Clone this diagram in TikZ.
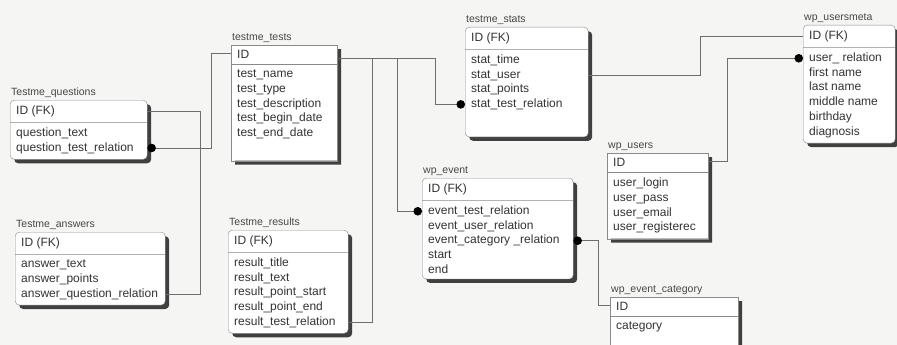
\documentclass[tikz,border=0pt]{standalone}
\usepackage{fontspec}
\setmainfont{Liberation Sans}
\usetikzlibrary{positioning,shapes.multipart,shadows,arrows.meta}
\definecolor{boxline}{HTML}{8A8A8A}
\definecolor{textgray}{HTML}{333333}
\definecolor{linkgray}{HTML}{6E6E6E}
\definecolor{paper}{HTML}{F5F5F3}

\begin{document}
\begin{tikzpicture}[x=1pt,y=-1pt,
    tablebox/.style={rectangle split,rectangle split parts=2,rectangle split part align={left},
        draw=boxline,fill=white,anchor=north west,align=left,inner xsep=6pt,inner ysep=5.3pt,
        text=textgray,font=\fontsize{12}{14.7}\selectfont,
        drop shadow={opacity=1,fill=black!75,shadow xshift=4pt,shadow yshift=-4pt}},
    roundbox/.style={rounded corners=4pt},
    tabtitle/.style={inner sep=1pt,text=textgray!90,font=\fontsize{10.5}{13}\selectfont},
    link/.style={draw=linkgray,line width=.7pt},
    fkdot/.style={arrows={Circle[length=8.5pt,width=8.5pt,color=black]-}}]
\useasboundingbox (0,0) rectangle (897,345);
\fill[paper] (0,0) rectangle (897,345);

\begin{scope}
    \node[tablebox,roundbox,minimum width=137pt] (q) at (10,100)
        {ID (FK) \nodepart{two} question\_text\\question\_test\_relation};
    \node[tablebox,minimum width=106pt] (tt) at (231,45)
        {ID \nodepart{two} test\_name\\test\_type\\test\_description\\test\_begin\_date\\test\_end\_date\\[4pt]~};
    \node[tablebox,roundbox,minimum width=123pt] (st) at (465,27)
        {ID (FK) \nodepart{two} stat\_time\\stat\_user\\stat\_points\\stat\_test\_relation\\[9pt]~};
    \node[tablebox,roundbox,minimum width=92pt] (um) at (803,25)
        {ID (FK) \nodepart{two} user\_ relation\\first name\\last name\\middle name\\birthday\\diagnosis};
    \node[tablebox,minimum width=101pt] (us) at (607,153)
        {ID \nodepart{two} user\_login\\user\_pass\\user\_email\\user\_registerec};
    \node[tablebox,roundbox,minimum width=151pt] (ev) at (422,178)
        {ID (FK) \nodepart{two} event\_test\_relation\\event\_user\_relation\\event\_category \_relation\\start\\end};
    \node[tablebox,roundbox,minimum width=120pt] (r) at (228,230)
        {ID (FK) \nodepart{two} result\_title\\result\_text\\result\_point\_start\\result\_point\_end\\result\_test\_relation};
    \node[tablebox,roundbox,minimum width=150pt] (a) at (15,232)
        {ID (FK) \nodepart{two} answer\_text\\answer\_points\\answer\_question\_relation};
    \node[tablebox,minimum width=128pt] (ec) at (610,297)
        {ID \nodepart{two} category\\~};
\end{scope}

\begin{scope}[every node/.style={tabtitle}]
    \node[above right=1.5pt and 0pt of q.north west] (q-title) {Testme\_questions};
    \node[above right=1.5pt and 0pt of tt.north west] (tt-title) {testme\_tests};
    \node[above right=1.5pt and 0pt of st.north west] (st-title) {testme\_stats};
    \node[above right=1.5pt and 0pt of um.north west] (um-title) {wp\_usersmeta};
    \node[above right=1.5pt and 0pt of us.north west] (us-title) {wp\_users};
    \node[above right=1.5pt and 0pt of ev.north west] (ev-title) {wp\_event};
    \node[above right=1.5pt and 0pt of r.north west] (r-title) {Testme\_results};
    \node[above right=1.5pt and 0pt of a.north west] (a-title) {Testme\_answers};
    \node[above right=1.5pt and 0pt of ec.north west] (ec-title) {wp\_event\_category};
\end{scope}

\begin{scope}[every path/.style={link}]
    \draw[fkdot] ([yshift=-25.6pt]q.text split east) -- ++(64,0) |- ([yshift=11pt]tt.text split west);
    \draw ([yshift=-40.3pt]a.text split east) -- ++(35,0) |- ([yshift=11pt]q.text split east);
    \draw ([yshift=-69.7pt]r.text split east) -- ++(24,0) |- ([yshift=6pt]tt.text split east);
    \draw[fkdot] ([yshift=-10.9pt]ev.text split west) -- ++(-25,0) |- ([yshift=6pt]tt.text split east);
    \draw[fkdot] ([yshift=-55pt]st.text split west) -- ++(-30,0) |- ([yshift=6pt]tt.text split east);
    \draw ([yshift=-25.6pt]st.text split east) -- ++(112,0) |- ([yshift=11pt]um.text split west);
    \draw[fkdot] ([yshift=-10.9pt]um.text split west) -- ++(-76,0) |- ([yshift=11pt]us.text split east);
    \draw[fkdot] ([yshift=-40.3pt]ev.text split east) -- ++(25,0) |- ([yshift=11pt]ec.text split west);
\end{scope}
\end{tikzpicture}
\end{document}
